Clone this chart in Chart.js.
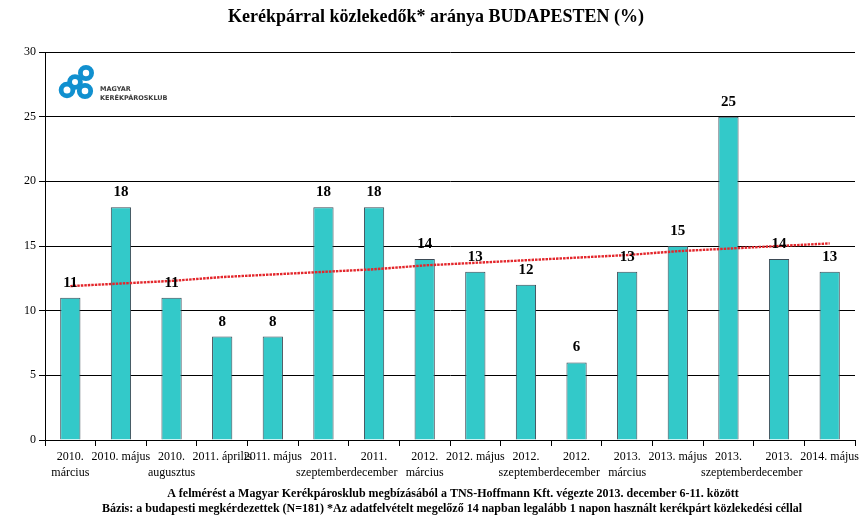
<!DOCTYPE html>
<html><head><meta charset="utf-8">
<script src="https://cdn.jsdelivr.net/npm/chart.js@4"></script>
<style>html,body{margin:0;padding:0;background:#fff;}#wrap{width:865px;height:517px;position:relative;}</style>
</head><body><div id="wrap"><canvas id="c" width="865" height="517"></canvas></div>
<script>
const categories = [
  ["2010.","március"],"2010. május",["2010.","augusztus"],"2011. április","2011. május",
  ["2011.","szeptember"],["2011.","december"],["2012.","március"],"2012. május",
  ["2012.","szeptember"],["2012.","december"],["2013.","március"],"2013. május",
  ["2013.","szeptember"],["2013.","december"],"2014. május"
];
const shares = [11,18,11,8,8,18,18,14,13,12,6,13,15,25,14,13];
const trend = [11.9,12.1,12.3,12.6,12.8,13.0,13.2,13.5,13.7,13.9,14.1,14.3,14.6,14.8,15.0,15.2];
const yTicks = [0,5,10,15,20,25,30];
const titleText = "Kerékpárral közlekedők* aránya BUDAPESTEN (%)";
const footerLines = [
  "A felmérést a Magyar Kerékpárosklub megbízásából a TNS-Hoffmann Kft. végezte 2013. december 6-11. között",
  "Bázis: a budapesti megkérdezettek (N=181) *Az adatfelvételt megelőző 14 napban legalább 1 napon használt kerékpárt közlekedési céllal"
];
const logoLines = ["MAGYAR","KERÉKPÁROSKLUB"];

const SERIF = "'Liberation Serif','Times New Roman',serif";

const decor = {
  id:'decor',
  afterDatasetsDraw(chart){
    const ctx = chart.ctx;
    const meta = chart.getDatasetMeta(0);
    ctx.save();
    ctx.font = "bold 15px " + SERIF;
    ctx.fillStyle = "#000";
    ctx.textAlign = "center";
    ctx.textBaseline = "alphabetic";
    meta.data.forEach((bar,i)=>{
      ctx.fillText(String(shares[i]), bar.x, bar.y - 11);
    });
    ctx.restore();
  },
  afterDraw(chart){
    const ctx = chart.ctx;
    ctx.save();
    ctx.fillStyle = "#000";
    ctx.textAlign = "center";
    ctx.textBaseline = "middle";
    ctx.font = "bold 18px " + SERIF;
    ctx.fillText(titleText, 436, 17);
    ctx.font = "bold 12px " + SERIF;
    ctx.fillText(footerLines[0], 453, 494);
    ctx.fillText(footerLines[1], 452, 509);
    // logo
    const ca = chart.chartArea;
    const lx = ca.left, ly = ca.top;
    ctx.strokeStyle = "#1190cf";
    ctx.lineWidth = 4.8;
    const rings = [[41,21,5.6],[30,30,5.4],[22,38,5.9],[40,39,5.7]];
    rings.forEach(r=>{ctx.beginPath();ctx.arc(lx+r[0],ly+r[1],r[2],0,Math.PI*2);ctx.stroke();});
    ctx.fillStyle = "#3a3a3a";
    ctx.textAlign = "left";
    ctx.font = "bold 6.5px 'DejaVu Sans',sans-serif";
    ctx.fillText(logoLines[0], lx+55, ly+37);
    ctx.fillText(logoLines[1], lx+55, ly+46);
    ctx.restore();
  }
};

new Chart(document.getElementById('c'), {
  type:'bar',
  data:{
    labels:categories,
    datasets:[
      {type:'bar', data:shares, backgroundColor:'#33c9c9', borderColor:'#3d4a55', borderWidth:1,
       barPercentage:0.4, categoryPercentage:1.0, order:2},
      {type:'line', data:trend, borderColor:'#e3262b', borderWidth:2.4, borderDash:[2.5,1],
       pointRadius:0, fill:false, tension:0, order:1}
    ]
  },
  options:{
    responsive:false, animation:false,
    layout:{padding:{top:52,right:10,left:0,bottom:0}},
    plugins:{legend:{display:false}, tooltip:{enabled:false}, title:{display:false}},
    scales:{
      x:{
        offset:true,
        grid:{display:true, offset:true, drawOnChartArea:false, drawTicks:true, tickLength:6, color:'#000', lineWidth:1},
        border:{display:true, color:'#000', width:1},
        ticks:{autoSkip:false, maxRotation:0, minRotation:0, color:'#000', padding:3,
               font:{family:SERIF, size:12, lineHeight:1.3}},
        afterFit(s){ s.height = 77; }
      },
      y:{
        min:0, max:30,
        afterBuildTicks(s){ s.ticks = yTicks.map(v=>({value:v})); },
        grid:{color:'#000', lineWidth:1, tickLength:6, drawTicks:true},
        border:{display:true, color:'#000', width:1},
        ticks:{color:'#000', padding:3, font:{family:SERIF, size:12}},
        afterFit(s){ s.width = 45; }
      }
    }
  },
  plugins:[decor]
});
</script>
</body></html>
